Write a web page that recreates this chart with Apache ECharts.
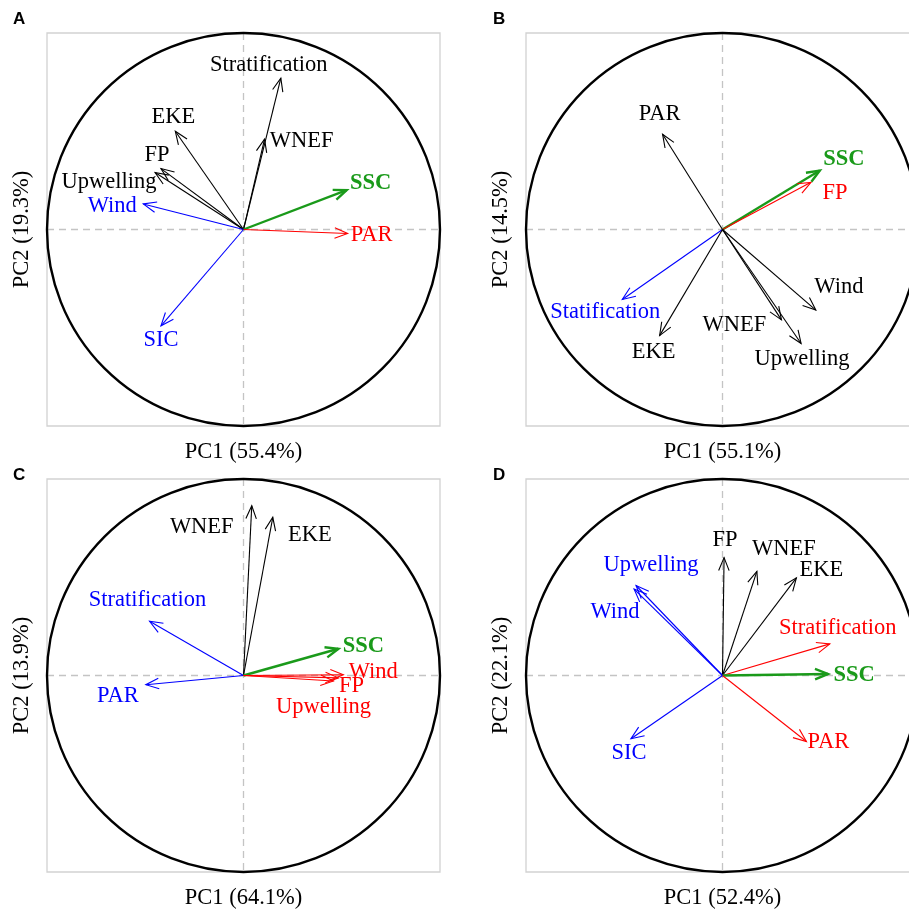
<!DOCTYPE html>
<html><head><meta charset="utf-8">
<script src="https://cdn.jsdelivr.net/npm/echarts@6/dist/echarts.min.js"></script>
<style>html,body{margin:0;padding:0;background:#fff;overflow:hidden}#c{width:940px;height:912px}</style>
</head><body><div id="c"></div>
<script>
// ---------------- DATA ----------------
const panelLetters = ['A', 'B', 'C', 'D'];
const pc1Explained = [55.4, 55.1, 64.1, 52.4];
const pc2Explained = [19.3, 14.5, 13.9, 22.1];

const varsA = ['Stratification', 'WNEF', 'EKE', 'FP', 'Upwelling', 'Wind', 'SSC', 'PAR', 'SIC'];
const pc1A  = [0.19, 0.107, -0.347, -0.42, -0.45, -0.51, 0.525, 0.53, -0.42];
const pc2A  = [0.77, 0.46, 0.50, 0.31, 0.29, 0.13, 0.20, -0.02, -0.49];

const varsB = ['PAR', 'SSC', 'FP', 'Statification', 'EKE', 'WNEF', 'Upwelling', 'Wind'];
const pc1B  = [-0.305, 0.495, 0.45, -0.51, -0.32, 0.30, 0.40, 0.475];
const pc2B  = [0.485, 0.30, 0.24, -0.356, -0.54, -0.46, -0.58, -0.41];

const varsC = ['WNEF', 'EKE', 'Stratification', 'PAR', 'SSC', 'Wind', 'FP', 'Upwelling'];
const pc1C  = [0.042, 0.149, -0.478, -0.497, 0.483, 0.508, 0.483, 0.458];
const pc2C  = [0.864, 0.805, 0.276, -0.047, 0.136, 0.004, -0.012, -0.028];

const varsD = ['FP', 'WNEF', 'EKE', 'Upwelling', 'Wind', 'Stratification', 'SSC', 'PAR', 'SIC'];
const pc1D  = [0.008, 0.175, 0.376, -0.44, -0.45, 0.546, 0.537, 0.427, -0.466];
const pc2D  = [0.60, 0.53, 0.497, 0.458, 0.44, 0.161, 0.008, -0.336, -0.322];

// ---------------- STYLE ----------------
const COL = { k: '#000000', r: '#FF0000', b: '#0000FF', g: '#1A9A1A' };
const FONT = '"Liberation Serif", "Times New Roman", serif';
const FS = 22.5;
// per-arrow colour key and label offset (px from arrow tip, label centre)
const styleA = [['k', -12, -13], ['k', 37, 2], ['k', -2, -14], ['k', -4, -13], ['k', -46, 10],
                ['b', -31, 2], ['g', 24, -7], ['r', 24, 2], ['b', 0, 14]];
const styleB = [['k', -3, -20], ['g', 24, -11], ['r', 24, 11], ['b', -17, 13], ['k', -6, 16],
                ['k', -47, 5], ['k', 1, 16], ['k', 23, -23]];
const styleC = [['k', -50, 21], ['k', 37, 18], ['b', -2, -21], ['b', -28, 11], ['g', 25, -3],
                ['r', 30, -3], ['r', 13, 8], ['r', -10, 26]];
const styleD = [['k', 1, -18], ['k', 27, -22], ['k', 25, -8], ['b', 15, -20], ['b', -19, 23],
                ['r', 8, -16], ['g', 26, 1], ['r', 22, 1], ['b', -2, 14]];

const panels = [
  { vars: varsA, x: pc1A, y: pc2A, st: styleA },
  { vars: varsB, x: pc1B, y: pc2B, st: styleB },
  { vars: varsC, x: pc1C, y: pc2C, st: styleC },
  { vars: varsD, x: pc1D, y: pc2D, st: styleD }
];
const gridPos = [[47, 33], [526, 33], [47, 479], [526, 479]];
const SIZE = 393;

const chart = echarts.init(document.getElementById('c'), null, { renderer: 'canvas' });

function frameRender(params, api) {
  const o = api.coord([0, 0]);
  const r = api.coord([1, 0])[0] - o[0];
  const l = api.coord([-1, 0])[0], rt = api.coord([1, 0])[0];
  const t = api.coord([0, 1])[1], b = api.coord([0, -1])[1];
  const dash = { stroke: '#C4C4C4', lineWidth: 1.3, lineDash: [7, 5] };
  return {
    type: 'group', children: [
      { type: 'line', shape: { x1: l, y1: o[1], x2: rt, y2: o[1] }, style: dash },
      { type: 'line', shape: { x1: o[0], y1: t, x2: o[0], y2: b }, style: dash },
      { type: 'circle', shape: { cx: o[0], cy: o[1], r: r }, style: { fill: null, stroke: '#000', lineWidth: 2.4 } }
    ]
  };
}

function arrowRender(panel) {
  return function (params, api) {
    const i = params.dataIndex;
    const o = api.coord([0, 0]);
    const p = api.coord([api.value(0), api.value(1)]);
    const s = panel.st[i];
    const color = COL[s[0]];
    const isG = s[0] === 'g';
    const lw = isG ? 2.4 : 1.1;
    const th = Math.atan2(p[1] - o[1], p[0] - o[0]);
    const L = 14, a = 22 * Math.PI / 180;
    const h1 = [p[0] - L * Math.cos(th - a), p[1] - L * Math.sin(th - a)];
    const h2 = [p[0] - L * Math.cos(th + a), p[1] - L * Math.sin(th + a)];
    return {
      type: 'group', children: [
        { type: 'line', shape: { x1: o[0], y1: o[1], x2: p[0], y2: p[1] }, style: { stroke: color, lineWidth: lw } },
        { type: 'polyline', shape: { points: [h1, p, h2] }, style: { stroke: color, lineWidth: lw, fill: null } },
        { type: 'text', x: p[0] + s[1], y: p[1] + s[2],
          style: { text: panel.vars[i], fill: color, fontFamily: FONT, fontSize: FS,
                   fontWeight: isG ? 'bold' : 'normal', align: 'center', verticalAlign: 'middle' } }
      ]
    };
  };
}

const grid = [], xAxis = [], yAxis = [], series = [];
panels.forEach((pn, k) => {
  grid.push({ left: gridPos[k][0], top: gridPos[k][1], width: SIZE, height: SIZE,
              show: true, borderColor: '#D2D2D2', borderWidth: 1.3, backgroundColor: 'transparent' });
  const nameStyle = { fontFamily: FONT, fontSize: FS, color: '#000' };
  xAxis.push({ type: 'value', gridIndex: k, min: -1, max: 1, axisLine: { show: false }, axisTick: { show: false },
               axisLabel: { show: false }, splitLine: { show: false },
               name: 'PC1 (' + pc1Explained[k].toFixed(1) + '%)', nameLocation: 'middle', nameGap: 15, nameTextStyle: nameStyle });
  yAxis.push({ type: 'value', gridIndex: k, min: -1, max: 1, axisLine: { show: false }, axisTick: { show: false },
               axisLabel: { show: false }, splitLine: { show: false },
               name: 'PC2 (' + pc2Explained[k].toFixed(1) + '%)', nameLocation: 'middle', nameGap: 13, nameTextStyle: nameStyle });
  series.push({ type: 'custom', xAxisIndex: k, yAxisIndex: k, silent: true, clip: false,
                data: [[0, 0]], renderItem: frameRender, z: 1 });
  series.push({ type: 'custom', xAxisIndex: k, yAxisIndex: k, silent: true, clip: false,
                data: pn.x.map((v, i) => [v, pn.y[i]]), encode: { x: 0, y: 1 },
                renderItem: arrowRender(pn), z: 2 });
});

const letterPos = [[13, 11], [493, 11], [13, 467], [493, 467]];
const graphic = panelLetters.map((t, k) => ({
  type: 'text', left: letterPos[k][0], top: letterPos[k][1],
  style: { text: t, fontFamily: '"Liberation Sans", Arial, sans-serif', fontWeight: 'bold', fontSize: 17, fill: '#000' }
}));

chart.setOption({ animation: false, backgroundColor: '#fff', grid, xAxis, yAxis, series, graphic });
</script>
</body></html>
